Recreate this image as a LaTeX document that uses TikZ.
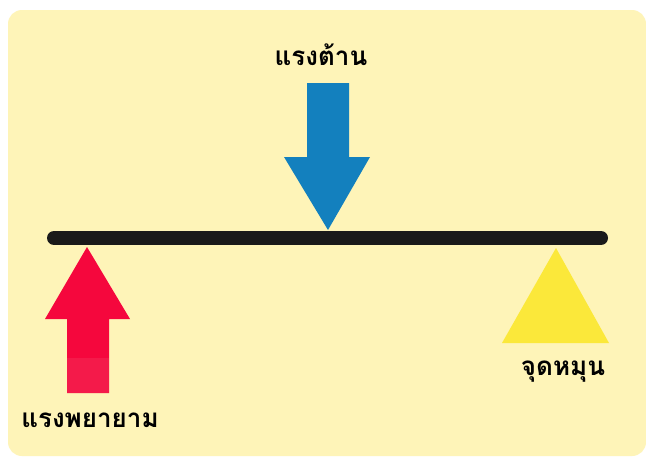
\documentclass[tikz,border=0pt]{standalone}
\usepackage{fontspec}
\newfontfamily\thaifont[Script=Thai]{Loma}
\definecolor{panelyellow}{HTML}{FEF4B8}
\definecolor{beamblack}{HTML}{1A1A1A}
\definecolor{pushblue}{HTML}{1380BE}
\definecolor{effortred}{HTML}{F5073D}
\definecolor{effortpink}{HTML}{F41A4A}
\definecolor{pivotyellow}{HTML}{FBE83A}
\begin{document}
\begin{tikzpicture}[x=1pt,y=-1pt]

\tikzstyle{label} = [font=\thaifont\bfseries\fontsize{26}{30}\selectfont, text=black, inner sep=0pt]
\tikzstyle{beam} = [line width=14pt, line cap=round, draw=beamblack]

% Background
\useasboundingbox (0,0) rectangle (646,463);
\fill[white] (0,0) rectangle (646,463);
\fill[panelyellow, rounded corners=14pt] (8,10) rectangle (646,456);

% Define nodes
\coordinate (beamL) at (54,238);
\coordinate (beamR) at (601,238);
\node (resist) [label] at (321,55) {แรงต้าน};
\node (effort) [label] at (90,420) {แรงพยายาม};
\node (pivot) [label] at (563,372) {จุดหมุน};

% Draw shapes
\draw [beam] (beamL) -- (beamR);
\fill[pushblue] (307,83) -- (349,83) -- (349,157) -- (370,157) -- (328,230)
  -- (284,157) -- (307,157) -- cycle;
\fill[effortred] (87,247) -- (130,319) -- (109,319) -- (109,393) -- (67,393)
  -- (67,319) -- (45,319) -- cycle;
\fill[effortpink] (67,358) rectangle (109,393);
\fill[pivotyellow] (556,248) -- (609,343) -- (502,343) -- cycle;

\end{tikzpicture}
\end{document}
